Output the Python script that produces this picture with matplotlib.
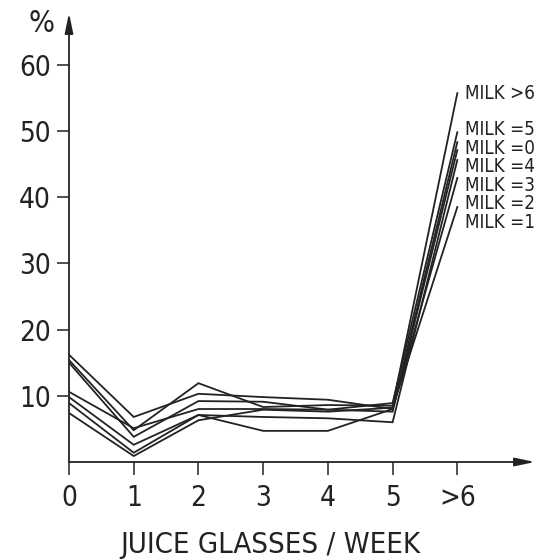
import matplotlib
matplotlib.use("Agg")
import matplotlib.pyplot as plt
from matplotlib import font_manager as fm

# ---- data ----
juice_positions = [0, 1, 2, 3, 4, 5, 6]
juice_labels = ["0", "1", "2", "3", "4", "5", ">6"]
y_ticks = [10, 20, 30, 40, 50, 60]

milk_gt6 = [15.4, 4.8, 11.9, 8.3, 8.6, 8.5, 55.7]
milk_5 = [15.0, 3.8, 9.2, 9.1, 7.9, 8.9, 49.8]
milk_0 = [16.2, 6.8, 10.3, 9.8, 9.4, 8.0, 48.3]
milk_4 = [10.6, 5.1, 8.0, 8.0, 7.9, 7.6, 47.1]
milk_3 = [9.8, 2.6, 7.1, 6.8, 6.6, 6.0, 45.6]
milk_2 = [8.9, 1.4, 7.1, 4.7, 4.7, 8.0, 42.9]
milk_1 = [7.4, 0.9, 6.3, 7.9, 7.6, 8.2, 38.5]

series = [
    ("MILK >6", milk_gt6, 55.7),
    ("MILK =5", milk_5, 50.2),
    ("MILK =0", milk_0, 47.4),
    ("MILK =4", milk_4, 44.6),
    ("MILK =3", milk_3, 41.8),
    ("MILK =2", milk_2, 39.0),
    ("MILK =1", milk_1, 36.2),
]

# ---- font ----
names = {f.name for f in fm.fontManager.ttflist}
cond = [f for f in fm.fontManager.ttflist if f.name == "DejaVu Sans" and f.stretch in ("condensed", 'semi-condensed')]
if "Liberation Sans Narrow" in names:
    FP = dict(family="Liberation Sans Narrow")
elif cond:
    FP = dict(family="DejaVu Sans", stretch="condensed")
else:
    FP = dict(family="DejaVu Sans")

ink = "#222222"

fig = plt.figure(figsize=(5.39, 5.60), dpi=100)
ax = fig.add_axes([69 / 539, (560 - 462) / 560, (535 - 69) / 539, (462 - 13) / 560])
ax.set_xlim(0, 7.2)
ax.set_ylim(0, 67.8)

for name, vals, ly in series:
    ax.plot(juice_positions, vals, color=ink, lw=1.3, solid_joinstyle="miter")
    ax.text(6.12, ly, name, ha="left", va="center", fontsize=13.5, color=ink, **FP)

for s in ["top", "right", "left", "bottom"]:
    ax.spines[s].set_visible(False)

ax.annotate("", xy=(1, 0), xytext=(0, 0), xycoords="axes fraction",
            arrowprops=dict(arrowstyle="-|>,head_length=1.2,head_width=0.25", color=ink, lw=1.3, shrinkA=0, shrinkB=0))
ax.annotate("", xy=(0, 1), xytext=(0, 0), xycoords="axes fraction",
            arrowprops=dict(arrowstyle="-|>,head_length=1.2,head_width=0.25", color=ink, lw=1.3, shrinkA=0, shrinkB=0))

ax.set_xticks(juice_positions)
ax.set_xticklabels(juice_labels)
ax.set_yticks(y_ticks)
ax.set_yticklabels([str(v) for v in y_ticks])
ax.tick_params(axis="both", direction="out", length=9, width=1.1, color=ink, labelcolor=ink, labelsize=20)
ax.tick_params(axis="x", pad=7)
ax.tick_params(axis="y", pad=4)
for lab in ax.get_xticklabels() + ax.get_yticklabels():
    lab.set_fontproperties(fm.FontProperties(size=20, **FP))

fig.text(270 / 539, 1 - 545 / 560, "JUICE GLASSES / WEEK", ha="center", va="center",
         fontsize=21, color=ink, **FP)
fig.text(41 / 539, 1 - 24 / 560, "%", ha="center", va="center", fontsize=22, color=ink, **FP)

fig.savefig("out.png", dpi=100)
